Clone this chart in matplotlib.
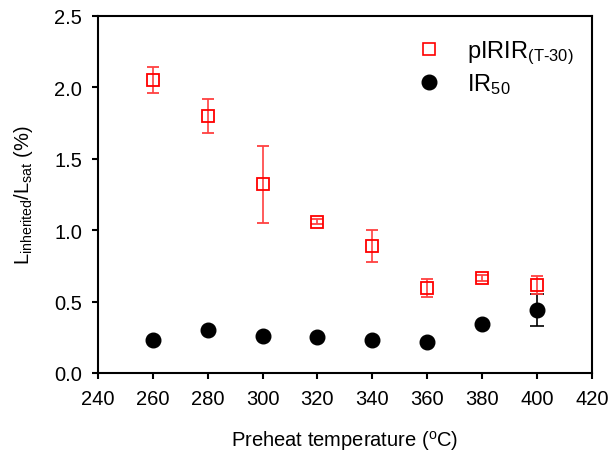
import matplotlib
matplotlib.use('Agg')
import matplotlib.pyplot as plt
from matplotlib.lines import Line2D
import numpy as np

plt.rcParams['font.family'] = ['Liberation Sans', 'DejaVu Sans']
plt.rcParams['mathtext.fontset'] = 'custom'
plt.rcParams['mathtext.rm'] = 'Liberation Sans'
plt.rcParams['mathtext.it'] = 'Liberation Sans'

# Preheat temperatures
temps = [260, 280, 300, 320, 340, 360, 380, 400]

# pIRIR(T-30)
pirir = [2.05, 1.80, 1.32, 1.06, 0.89, 0.595, 0.665, 0.615]
pirir_err = [0.09, 0.12, 0.27, 0.02, 0.11, 0.065, 0.02, 0.065]

# IR50
ir50 = [0.23, 0.30, 0.26, 0.25, 0.23, 0.215, 0.34, 0.44]
ir50_err = [0.0, 0.0, 0.0, 0.0, 0.0, 0.0, 0.0, 0.11]

fig = plt.figure(figsize=(6.12, 4.56), dpi=100)
ax = fig.add_axes([0.160, 0.180, 0.807, 0.783])

ax.errorbar(temps, pirir, yerr=pirir_err, fmt='s', mfc='none', mec='red', ms=8,
            mew=1.3, ecolor=(1, 0.25, 0.25), elinewidth=1.2, capsize=4, capthick=1.2,
            zorder=3)
ax.errorbar(temps, ir50, yerr=ir50_err, fmt='o', mfc='black', mec='black', ms=10.5,
            ecolor='black', elinewidth=1.2, capsize=5, capthick=1.2, zorder=2)

ax.set_xlim(240, 420)
ax.set_ylim(0, 2.5)
ax.set_xticks(np.arange(240, 421, 20))
ax.set_yticks(np.arange(0, 2.51, 0.5))
ax.yaxis.set_major_formatter(matplotlib.ticker.FormatStrFormatter('%.1f'))
ax.tick_params(direction='out', length=4.3, width=1.5, labelsize=14.5, pad=7)
for s in ax.spines.values():
    s.set_linewidth(1.5)

ax.set_xlabel(r'Preheat temperature ($^{\mathrm{o}}$C)', fontsize=14.5, labelpad=15)
ax.set_ylabel(r'L$_{\mathrm{inherited}}$/L$_{\mathrm{sat}}$ (%)', fontsize=14.5, labelpad=14)

handles = [Line2D([], [], ls='none', marker='s', mfc='none', mec='red', ms=8, mew=1.2),
           Line2D([], [], ls='none', marker='o', mfc='black', mec='black', ms=10.5)]
labels = [r'pIRIR$_{\mathrm{(T\text{-}30)}}$', r'IR$_{50}$']
ax.legend(handles, labels, loc='upper left', bbox_to_anchor=(0.646, 0.935),
          frameon=False, fontsize=17, handlelength=1.0, handletextpad=1.1,
          borderpad=0, borderaxespad=0, labelspacing=0.2)

fig.savefig('out.png', dpi=100)
